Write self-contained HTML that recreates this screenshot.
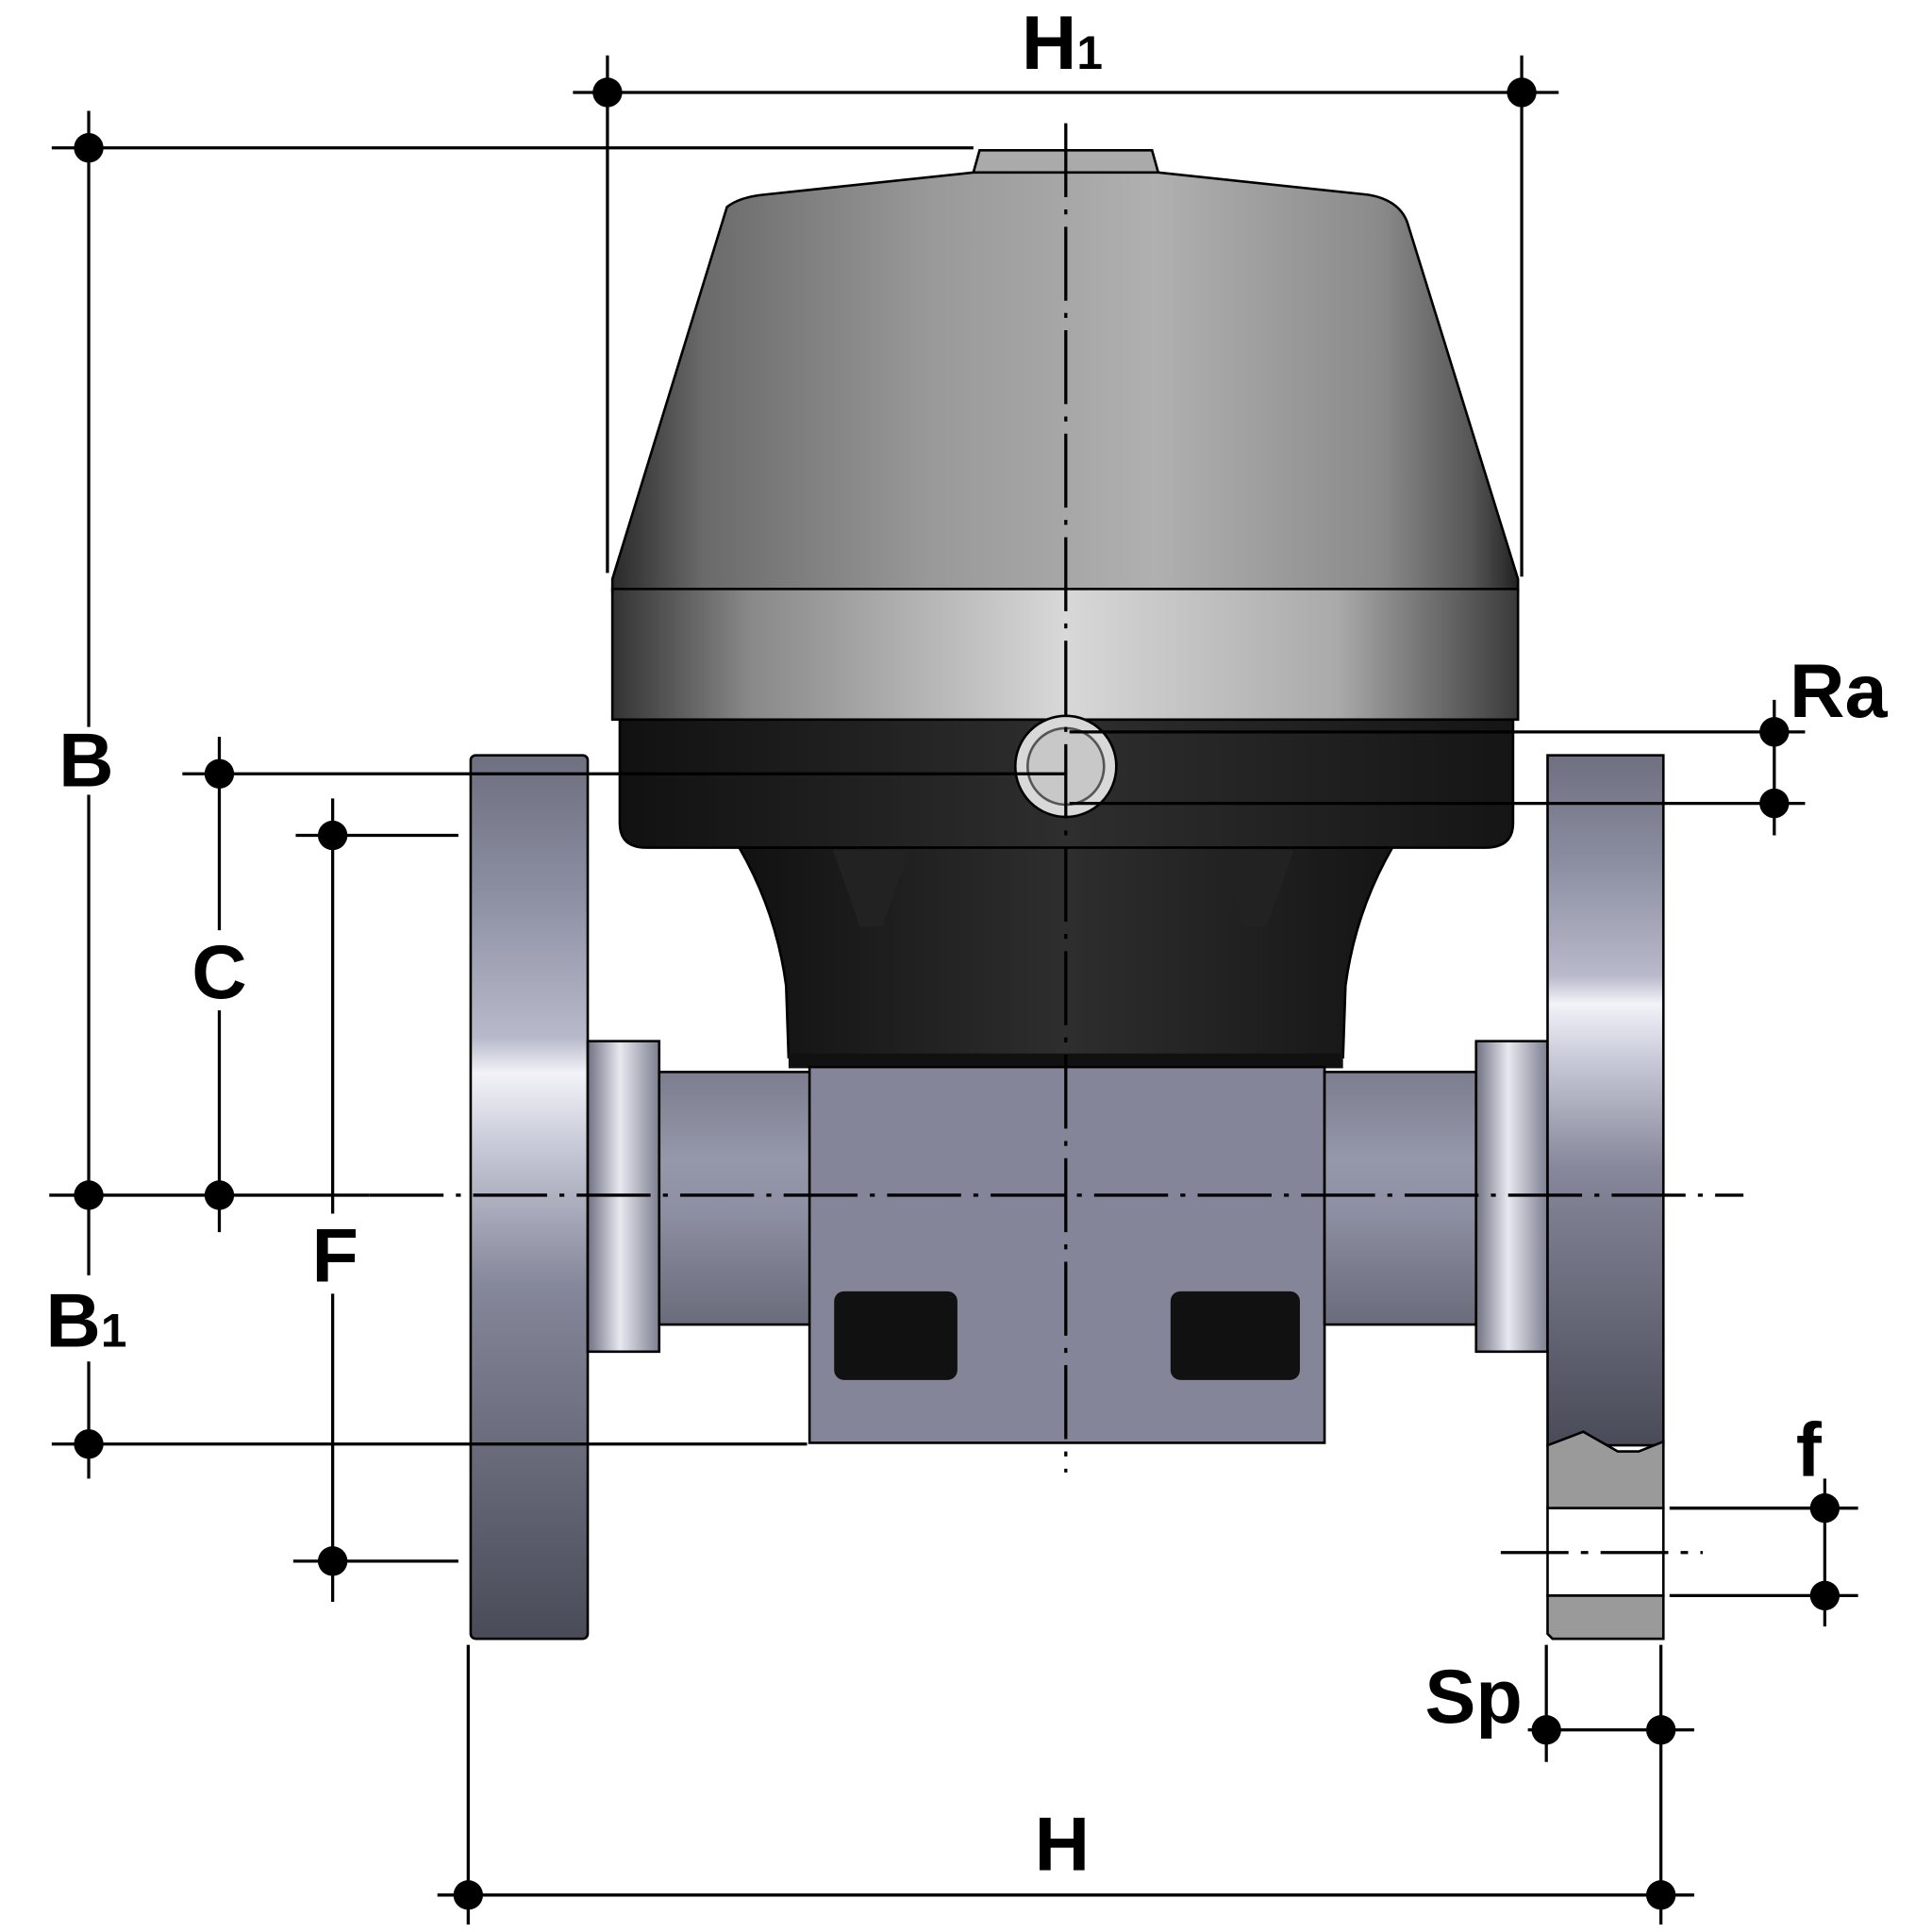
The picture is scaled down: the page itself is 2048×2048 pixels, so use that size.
<!DOCTYPE html>
<html><head><style>html,body{margin:0;padding:0;background:#fff}svg{display:block}</style></head>
<body>
<svg width="2048" height="2048" viewBox="0 0 1568 1568" xmlns="http://www.w3.org/2000/svg">
<defs>
<linearGradient id="dome" x1="0" y1="0" x2="1" y2="0">
<stop offset="0" stop-color="#2a2a2a"/><stop offset="0.1" stop-color="#6a6a6a"/><stop offset="0.35" stop-color="#999"/><stop offset="0.6" stop-color="#b0b0b0"/><stop offset="0.85" stop-color="#8a8a8a"/><stop offset="0.95" stop-color="#555"/><stop offset="1" stop-color="#222"/></linearGradient>
<linearGradient id="band" x1="0" y1="0" x2="1" y2="0">
<stop offset="0" stop-color="#333"/><stop offset="0.15" stop-color="#888"/><stop offset="0.5" stop-color="#d8d8d8"/><stop offset="0.8" stop-color="#aaa"/><stop offset="1" stop-color="#3a3a3a"/></linearGradient>
<linearGradient id="dark" x1="0" y1="0" x2="1" y2="0">
<stop offset="0" stop-color="#111"/><stop offset="0.5" stop-color="#2e2e2e"/><stop offset="1" stop-color="#151515"/></linearGradient>
<linearGradient id="fl" x1="0" y1="0" x2="0" y2="1">
<stop offset="0" stop-color="#6e7080"/><stop offset="0.15" stop-color="#8a8ca0"/><stop offset="0.32" stop-color="#b8bacb"/><stop offset="0.36" stop-color="#f2f2f8"/><stop offset="0.44" stop-color="#c8cad8"/><stop offset="0.6" stop-color="#85879a"/><stop offset="1" stop-color="#4a4b58"/></linearGradient>
<linearGradient id="pipe" x1="0" y1="0" x2="0" y2="1">
<stop offset="0" stop-color="#7c7e90"/><stop offset="0.35" stop-color="#9597aa"/><stop offset="0.55" stop-color="#8d8fa2"/><stop offset="1" stop-color="#6a6c7c"/></linearGradient>
<linearGradient id="hub" x1="0" y1="0" x2="1" y2="0">
<stop offset="0" stop-color="#6f7182"/><stop offset="0.45" stop-color="#e8e8f0"/><stop offset="1" stop-color="#7d7f90"/></linearGradient>
</defs>

<!-- Actuator -->
<path d="M790,140 L795,122 L935,122 L940,140 Z" fill="#aaa" stroke="#000" stroke-width="2"/>
<path d="M590,168 Q600,160 620,158 L790,140 L940,140 L1110,158 Q1135,162 1142,180 L1232,470 L1232,480 L497,480 L497,470 Z" fill="url(#dome)" stroke="#000" stroke-width="2"/>
<rect x="497" y="478" width="735" height="106" fill="url(#band)" stroke="#000" stroke-width="2"/>
<path d="M503,584 L1228,584 L1228,668 Q1228,688 1205,688 L525,688 Q503,688 503,668 Z" fill="url(#dark)" stroke="#000" stroke-width="2"/>
<path d="M600,688 L1130,688 Q1100,740 1092,800 L1090,858 L640,858 L638,800 Q630,740 600,688 Z" fill="url(#dark)" stroke="#000" stroke-width="2"/>
<path d="M676,690 L738,690 L716,752 L698,752 Z" fill="#222"/>
<path d="M988,690 L1050,690 L1028,752 L1010,752 Z" fill="#222"/>
<circle cx="865" cy="622" r="41" fill="#d8d8d8" stroke="#000" stroke-width="2"/>
<circle cx="865" cy="622" r="31" fill="#c8c8c8" stroke="#555" stroke-width="2"/>

<!-- Valve body -->
<rect x="382" y="613" width="95" height="717" rx="4" fill="url(#fl)" stroke="#000" stroke-width="2"/>
<rect x="477" y="845" width="58" height="252" fill="url(#hub)" stroke="#000" stroke-width="2"/>
<rect x="535" y="870" width="125" height="205" fill="url(#pipe)" stroke="#000" stroke-width="2"/>
<rect x="640" y="855" width="450" height="12" fill="#111"/>
<rect x="657" y="866" width="418" height="305" fill="#848598" stroke="#000" stroke-width="2"/>
<rect x="1075" y="870" width="123" height="205" fill="url(#pipe)" stroke="#000" stroke-width="2"/>
<rect x="1198" y="845" width="58" height="252" fill="url(#hub)" stroke="#000" stroke-width="2"/>
<rect x="677" y="1048" width="100" height="72" rx="8" fill="#111"/>
<rect x="950" y="1048" width="105" height="72" rx="8" fill="#111"/>
<rect x="1256" y="613" width="94" height="560" fill="url(#fl)" stroke="#000" stroke-width="2"/>
<path d="M1256,1173 L1285,1162 L1313,1178 L1330,1178 L1350,1170 L1350,1224 L1256,1224 Z" fill="#9a9a9a" stroke="#000" stroke-width="2"/>
<rect x="1256" y="1224" width="94" height="71" fill="#fff" stroke="#000" stroke-width="2"/>
<path d="M1256,1295 L1350,1295 L1350,1330 L1260,1330 L1256,1326 Z" fill="#9a9a9a" stroke="#000" stroke-width="2"/>

<!-- centre lines -->
<g stroke="#000" stroke-width="2.5" fill="none">
<line x1="300" y1="970" x2="1415" y2="970" stroke-dasharray="60,10,4,10"/>
<line x1="865" y1="100" x2="865" y2="1195" stroke-dasharray="60,10,4,10"/>
<line x1="1218" y1="1260" x2="1382" y2="1260" stroke-dasharray="55,10,6,10"/>
</g>

<!-- Dimension lines -->
<g stroke="#000" stroke-width="2.5" fill="none">
<line x1="465" y1="75" x2="1265" y2="75"/>
<line x1="493" y1="45" x2="493" y2="465"/>
<line x1="1235" y1="45" x2="1235" y2="468"/>
<line x1="72" y1="90" x2="72" y2="590"/><line x1="72" y1="645" x2="72" y2="1035"/><line x1="72" y1="1105" x2="72" y2="1200"/>
<line x1="42" y1="120" x2="790" y2="120"/>
<line x1="40" y1="970" x2="300" y2="970"/>
<line x1="42" y1="1172" x2="655" y2="1172"/>
<line x1="178" y1="598" x2="178" y2="755"/><line x1="178" y1="820" x2="178" y2="1000"/>
<line x1="148" y1="628" x2="865" y2="628"/>
<line x1="270" y1="648" x2="270" y2="985"/><line x1="270" y1="1050" x2="270" y2="1300"/>
<line x1="240" y1="678" x2="372" y2="678"/>
<line x1="238" y1="1267" x2="372" y2="1267"/>
<line x1="868" y1="594" x2="1465" y2="594"/>
<line x1="868" y1="652" x2="1465" y2="652"/>
<line x1="1440" y1="568" x2="1440" y2="678"/>
<line x1="1355" y1="1224" x2="1508" y2="1224"/>
<line x1="1355" y1="1295" x2="1508" y2="1295"/>
<line x1="1481" y1="1200" x2="1481" y2="1320"/>
<line x1="1255" y1="1335" x2="1255" y2="1430"/>
<line x1="1348" y1="1335" x2="1348" y2="1562"/>
<line x1="1240" y1="1404" x2="1375" y2="1404"/>
<line x1="355" y1="1538" x2="1375" y2="1538"/>
<line x1="380" y1="1335" x2="380" y2="1562"/>
</g>
<g fill="#000">
<circle cx="493" cy="75" r="12"/><circle cx="1235" cy="75" r="12"/>
<circle cx="72" cy="120" r="12"/><circle cx="72" cy="970" r="12"/><circle cx="72" cy="1172" r="12"/>
<circle cx="178" cy="628" r="12"/><circle cx="178" cy="970" r="12"/>
<circle cx="270" cy="678" r="12"/><circle cx="270" cy="1267" r="12"/>
<circle cx="1440" cy="594" r="12"/><circle cx="1440" cy="652" r="12"/>
<circle cx="1481" cy="1224" r="12"/><circle cx="1481" cy="1295" r="12"/>
<circle cx="1255" cy="1404" r="12"/><circle cx="1348" cy="1404" r="12"/>
<circle cx="380" cy="1538" r="12"/><circle cx="1348" cy="1538" r="12"/>
</g>

<g font-family="Liberation Sans, sans-serif" font-weight="bold" fill="#000" text-anchor="middle">
<text x="862" y="56" font-size="62">H<tspan font-size="38">1</tspan></text>
<text x="70" y="638" font-size="62">B</text>
<text x="70" y="1093" font-size="62">B<tspan font-size="38">1</tspan></text>
<text x="178" y="810" font-size="62">C</text>
<text x="272" y="1040" font-size="62">F</text>
<text x="1492" y="582" font-size="62">Ra</text>
<text x="1468" y="1198" font-size="62">f</text>
<text x="1196" y="1398" font-size="62">Sp</text>
<text x="862" y="1518" font-size="62">H</text>
</g>
</svg>
</body></html>
